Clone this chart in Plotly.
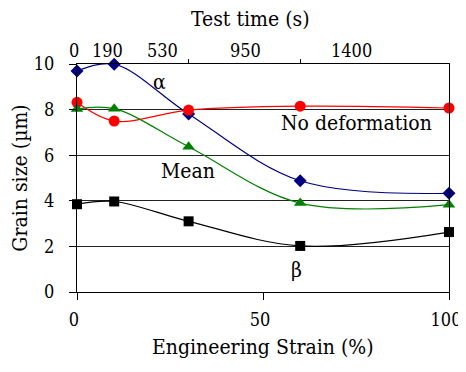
import plotly.graph_objects as go

# ---- data ----
strain = [0, 10, 30, 60, 100]
alpha = [9.69, 9.99, 7.81, 4.88, 4.33]
no_deformation = [8.32, 7.50, 7.98, 8.15, 8.07]
mean = [8.03, 8.04, 6.37, 3.90, 3.83]
beta = [3.85, 3.97, 3.10, 2.02, 2.63]

y_ticks = [0, 2, 4, 6, 8, 10]
x_ticks = [0, 50, 100]
top_tick_labels = ["0", "190", "530", "950", "1400"]

# ---- layout helpers (paper fractions of the plot width) ----
top_label_pos = [-0.008, 0.082, 0.231, 0.453, 0.737]
FONT = "DejaVu Serif Condensed, DejaVu Serif"
TICK = 18
TXT = 21

fig = go.Figure()

series = [
    ("α", alpha, "#000080", "diamond", 10),
    ("No deformation", no_deformation, "#FF0000", "circle", 11),
    ("Mean", mean, "#008000", "triangle-up", 11),
    ("β", beta, "#000000", "square", 10),
]
for name, vals, color, sym, sz in series:
    fig.add_trace(go.Scatter(
        x=strain, y=vals, name=name, mode="lines+markers",
        line=dict(shape="spline", smoothing=1.0, color=color, width=1.2),
        marker=dict(symbol=sym, size=sz, color=color),
        cliponaxis=False, showlegend=False,
    ))

# the page body adds an 8px margin, so the figure is 458x364
fig.update_layout(
    template="none",
    width=458, height=364,
    margin=dict(l=69, r=17, t=56, b=80),
    paper_bgcolor="white", plot_bgcolor="white",
    font=dict(family=FONT, size=TICK, color="black"),
    xaxis=dict(
        range=[0, 100], tickvals=x_ticks, ticks="outside", ticklen=7,
        tickcolor="black", showline=True, linecolor="black", linewidth=1,
        mirror=True, showgrid=False, zeroline=False,
        ticklabeloverflow="allow", ticklabelstandoff=4, ticklabelshift=-3,
        tickfont=dict(family=FONT, size=TICK, color="black"),
    ),
    xaxis2=dict(
        overlaying="x", side="top", range=[0, 100], tickvals=[30, 60],
        ticktext=["", ""], ticks="outside", ticklen=4, tickcolor="black",
        showgrid=False, showline=False, zeroline=False,
    ),
    yaxis=dict(
        range=[0, 10], tickvals=y_ticks, ticks="outside", ticklen=7,
        tickcolor="black", showline=True, linecolor="black", linewidth=1,
        mirror=True, showgrid=True, gridcolor="#222222", gridwidth=1,
        zeroline=False, ticklabelstandoff=11,
        tickfont=dict(family=FONT, size=TICK, color="black"),
        title=dict(text="Grain size (µm)",
                   font=dict(family=FONT, size=TXT, color="black"), standoff=8),
    ),
)

# invisible trace to activate the top axis
fig.add_trace(go.Scatter(x=[None], y=[None], xaxis="x2", yaxis="y",
                         showlegend=False, hoverinfo="skip"))

# top axis tick labels and title
for lab, pos in zip(top_tick_labels, top_label_pos):
    fig.add_annotation(x=pos, y=1, xref="paper", yref="paper",
                       xanchor="center", yanchor="middle",
                       yshift=14, text=lab, showarrow=False,
                       font=dict(family=FONT, size=TICK, color="black"))
fig.add_annotation(x=0.467, y=1, xref="paper", yref="paper",
                   xanchor="center", yanchor="middle",
                   yshift=45, text="Test time (s)", showarrow=False,
                   font=dict(family=FONT, size=TXT, color="black"))
# bottom axis title
fig.add_annotation(x=0.5, y=0, xref="paper", yref="paper",
                   xanchor="center", yanchor="middle",
                   yshift=-55, text="Engineering Strain (%)", showarrow=False,
                   font=dict(family=FONT, size=TXT, color="black"))

# series labels
labels = [("α", 22.3, 9.2), ("Mean", 29.8, 5.3),
          ("No deformation", 75, 7.4), ("β", 59, 0.95)]
for txt, xx, yy in labels:
    fig.add_annotation(x=xx, y=yy, text=txt, showarrow=False,
                       font=dict(family=FONT, size=TXT, color="black"))

fig.write_html("out.html")
